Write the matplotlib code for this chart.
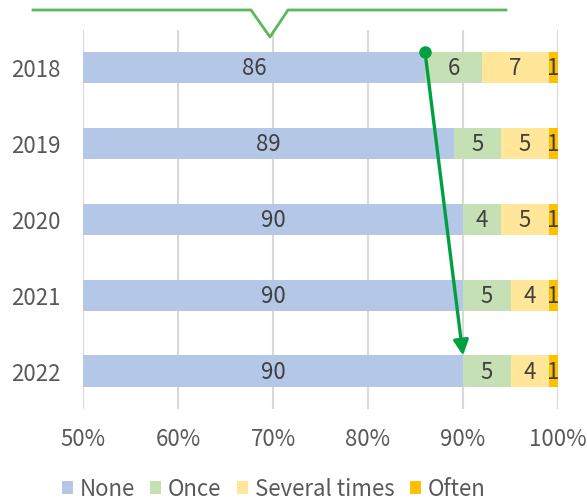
import matplotlib
matplotlib.use("Agg")
import matplotlib.pyplot as plt
import numpy as np
from matplotlib.lines import Line2D
from matplotlib.patches import Patch

plt.rcParams["font.family"] = ["Noto Sans CJK JP", "DejaVu Sans"]

years = ["2018", "2019", "2020", "2021", "2022"]
none_vals = [86, 89, 90, 90, 90]
once_vals = [6, 5, 4, 5, 5]
several_vals = [7, 5, 5, 4, 4]
often_vals = [1, 1, 1, 1, 1]
series_names = ["None", "Once", "Several times", "Often"]
colors = ["#B4C7E7", "#C5E0B4", "#FFE699", "#FFC000"]
x_ticks = [50, 60, 70, 80, 90, 100]
x_min = 50

text_col = "#404040"
tick_col = "#595959"
green = "#00A040"

fig = plt.figure(figsize=(5.87, 5.02), dpi=100)
ax = fig.add_axes([83 / 587, 1 - 410 / 502, 475 / 587, 379.5 / 502])

y = np.arange(len(years))
bar_h = 0.41
left = np.zeros(len(years))
for vals, color in zip([none_vals, once_vals, several_vals, often_vals], colors):
    vals = np.array(vals, dtype=float)
    ax.barh(y, vals, left=left, height=bar_h, color=color, zorder=2)
    for yi, l, v in zip(y, left, vals):
        lo = max(l, x_min)
        ax.text((lo + l + v) / 2, yi, f"{int(v)}", ha="center", va="center",
                fontsize=16, color=text_col, zorder=3)
    left = left + vals

ax.set_xlim(x_min, 100)
ax.set_ylim(len(years) - 0.5, -0.5)
ax.set_yticks(y)
ax.set_yticklabels(years)
ax.set_xticks(x_ticks)
ax.set_xticklabels([f"{t}%" for t in x_ticks])
ax.tick_params(axis="both", length=0, labelsize=16, colors=tick_col)
ax.tick_params(axis="x", pad=13)
ax.tick_params(axis="y", pad=16)
for s in ax.spines.values():
    s.set_visible(False)
ax.xaxis.grid(True, color="#D9D9D9", linewidth=1.5, zorder=0)
ax.set_axisbelow(True)

# green arrow from 2018 "None" edge to 2022 "None" edge
y0 = 0 - bar_h / 2
y1 = 4 - bar_h / 2
ax.annotate("", xy=(none_vals[4], y1), xytext=(none_vals[0], y0),
            arrowprops=dict(arrowstyle="-|>,head_length=0.9,head_width=0.45",
                            color=green, lw=2.4, shrinkA=0, shrinkB=0),
            zorder=5, annotation_clip=False)
ax.plot([none_vals[0]], [y0], "o", color=green, markersize=8, zorder=6, clip_on=False)

# callout line at the top
W, H = 587, 502
cx = [33, 251, 270, 288, 506]
cy = [11, 11, 38, 11, 11]
fig.add_artist(Line2D([v / W for v in cx], [1 - v / H for v in cy],
                      color="#5CB85C", linewidth=2.0))

handles = [Patch(facecolor=c, edgecolor="none") for c in colors]
fig.legend(handles, series_names, loc="center", bbox_to_anchor=(0.466, 1 - 490 / 502),
           ncol=4, frameon=False, fontsize=16, handlelength=0.5, handleheight=0.5,
           handletextpad=0.3, columnspacing=0.7, labelcolor=tick_col)

fig.savefig("out.png", dpi=100)
